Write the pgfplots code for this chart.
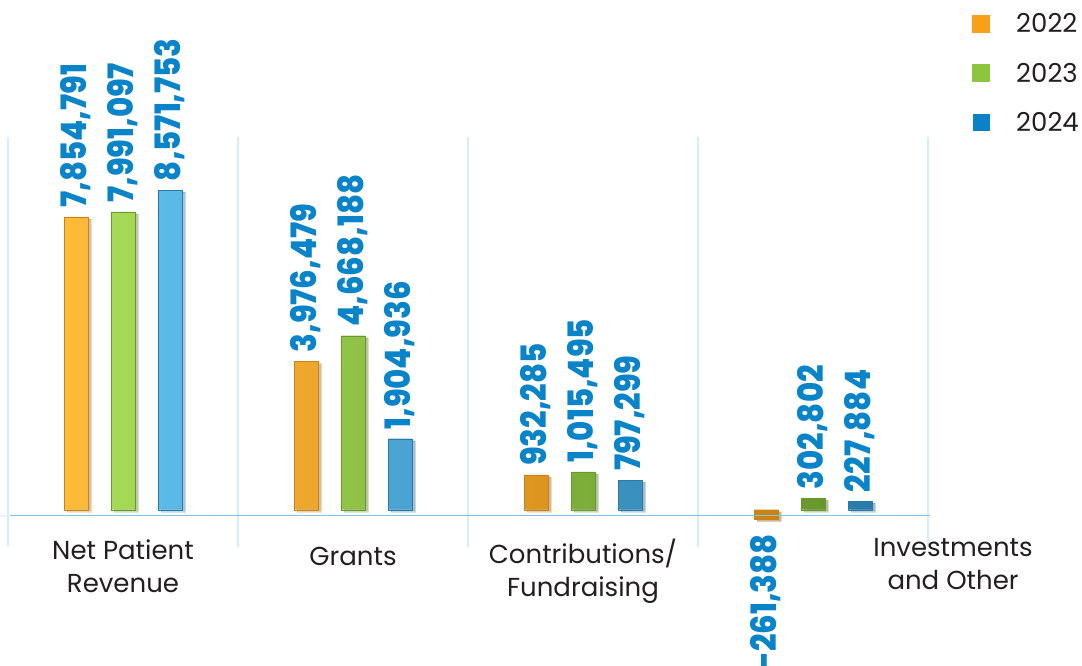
\documentclass[border=0pt]{standalone}
\usepackage{fontspec}
\setmainfont{Poppins}
\newfontfamily\numfont{Poppins ExtraBold}[FakeStretch=0.88]
\usepackage{pgfplots}
\pgfplotsset{compat=1.18}
\usepackage{pgfplotstable}
\usetikzlibrary{shadows}

\definecolor{oL}{HTML}{FDBB3A}
\definecolor{oM}{HTML}{F6A11C}
\definecolor{oR}{HTML}{CC8212}
\definecolor{gL}{HTML}{A6D955}
\definecolor{gM}{HTML}{8BC53F}
\definecolor{gR}{HTML}{68972C}
\definecolor{bL}{HTML}{5CBAE9}
\definecolor{bM}{HTML}{3DA2DA}
\definecolor{bR}{HTML}{287AA8}
\definecolor{c22}{HTML}{F7A11A}
\definecolor{c23}{HTML}{8CC63E}
\definecolor{c24}{HTML}{0A82C8}
\definecolor{labelblue}{HTML}{0A84C9}
\definecolor{gridblue}{HTML}{D2EEFB}
\definecolor{baseblue}{HTML}{7CC5EB}
\definecolor{textdark}{HTML}{231F20}

% label of a negative bar: set below the anchor instead of above it
\protected\def\neglab#1{\llap{#1\hspace{24pt}}}

\pgfplotstableread{
x y label
0 7854791 7,854,791
1 3976479 3,976,479
2 932285 932,285
3 -261388 \neglab{-261,388}
}\dataA
\pgfplotstableread{
x y label
0 7991097 7,991,097
1 4668188 4,668,188
2 1015495 1,015,495
3 302802 302,802
}\dataB
\pgfplotstableread{
x y label
0 8571753 8,571,753
1 1904936 1,904,936
2 797299 797,299
3 227884 227,884
}\dataC

\begin{document}
\begin{tikzpicture}
\path[use as bounding box] (-8pt,-118pt) rectangle (1074pt,547pt);
\clip (-8pt,-118pt) rectangle (1074pt,547pt);
\begin{axis}[
  width=977.5pt, height=410pt, scale only axis,
  xmin=-0.5, xmax=3.75, ymin=-1000000, ymax=10000000,
  clip=false,
  axis line style={draw=none},
  tick style={draw=none},
  ytick=\empty,
  xtick={0,1,2},
  xticklabels={Net Patient\\Revenue, Grants, Contributions/\\Fundraising},
  extra x ticks={3.609},
  extra x tick labels={Investments\\and Other},
  extra x tick style={xticklabel style={yshift=1pt}},
  xticklabel style={align=center, font=\fontsize{26}{33}\selectfont, text=textdark,
    inner sep=0pt, yshift=12pt, execute at begin node={\rule{0pt}{26pt}}},
  minor xtick={-0.5,0.5,1.5,2.5,3.5},
  xminorgrids,
  minor grid style={gridblue, line width=1.2pt},
  ybar=23pt, bar width=24pt,
  point meta=explicit symbolic,
  nodes near coords,
  every node near coord/.append style={rotate=90,
    font=\numfont\fontsize{35}{35}\selectfont, text=labelblue,
    inner xsep=9pt, inner ysep=0pt,
    anchor=west},
  legend style={at={(0.9862,1.3024)}, anchor=north west, draw=none, fill=none,
    inner sep=0pt, row sep=29pt, font=\fontsize{26}{26}\selectfont, text=textdark,
    nodes={inner sep=0pt},
    /tikz/every odd column/.append style={column sep=26pt}},
  legend cell align=left,
]
\addplot[left color=oL, middle color=oM, right color=oR, draw=oR, line width=0.4pt,
  drop shadow={shadow xshift=3pt, shadow yshift=-2pt, fill=black, opacity=0.22},
  legend image code/.code={\pgfpathrectangle{\pgfpoint{0pt}{-9pt}}{\pgfpoint{18pt}{18pt}}\pgfsetfillcolor{c22}\pgfusepath{fill}}]
  table[x=x, y=y, meta=label]{\dataA};
\addlegendentry{2022}
\addplot[left color=gL, middle color=gM, right color=gR, draw=gR, line width=0.4pt,
  drop shadow={shadow xshift=3pt, shadow yshift=-2pt, fill=black, opacity=0.22},
  legend image code/.code={\pgfpathrectangle{\pgfpoint{0pt}{-9pt}}{\pgfpoint{18pt}{18pt}}\pgfsetfillcolor{c23}\pgfusepath{fill}}]
  table[x=x, y=y, meta=label]{\dataB};
\addlegendentry{2023}
\addplot[left color=bL, middle color=bM, right color=bR, draw=bR, line width=0.4pt,
  drop shadow={shadow xshift=3pt, shadow yshift=-2pt, fill=black, opacity=0.22},
  legend image code/.code={\pgfpathrectangle{\pgfpoint{0.5pt}{-8.5pt}}{\pgfpoint{17pt}{17pt}}\pgfsetfillcolor{c24}\pgfusepath{fill}}]
  table[x=x, y=y, meta=label]{\dataC};
\addlegendentry{2024}
\draw[baseblue, line width=1.2pt] (axis cs:-0.49,-160000) -- (axis cs:3.51,-160000);
\end{axis}
\end{tikzpicture}
\end{document}
